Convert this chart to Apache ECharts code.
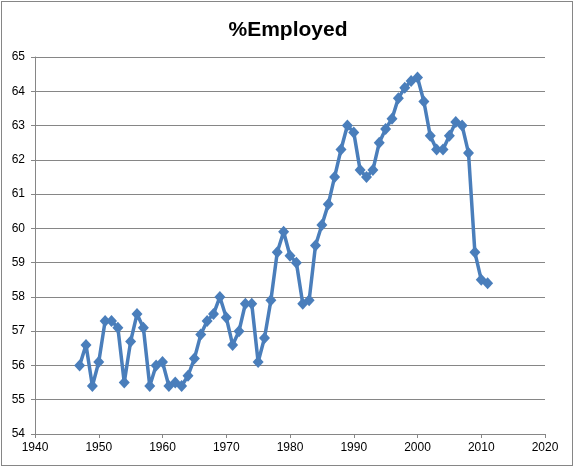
<!DOCTYPE html>
<html>
<head>
<meta charset="utf-8">
<script src="https://cdn.jsdelivr.net/npm/echarts@6/dist/echarts.min.js"></script>
<style>
html,body{margin:0;padding:0;background:#fff;}
#wrap{position:absolute;left:0;top:0;width:576px;height:470px;}
#border{position:absolute;left:1px;top:1px;width:572px;height:465px;border:1px solid #868686;box-sizing:border-box;pointer-events:none;}
#chart{position:absolute;left:0;top:0;width:576px;height:470px;}
</style>
</head>
<body>
<div id="wrap"><div id="chart"></div><div id="border"></div></div>
<script>
const titleText = "%Employed";
const years = [1947,1948,1949,1950,1951,1952,1953,1954,1955,1956,1957,1958,1959,1960,1961,1962,1963,1964,1965,1966,1967,1968,1969,1970,1971,1972,1973,1974,1975,1976,1977,1978,1979,1980,1981,1982,1983,1984,1985,1986,1987,1988,1989,1990,1991,1992,1993,1994,1995,1996,1997,1998,1999,2000,2001,2002,2003,2004,2005,2006,2007,2008,2009,2010,2011];
const employed = [56.0,56.6,55.4,56.1,57.3,57.3,57.1,55.5,56.7,57.5,57.1,55.4,56.0,56.1,55.4,55.5,55.4,55.7,56.2,56.9,57.3,57.5,58.0,57.4,56.6,57.0,57.8,57.8,56.1,56.8,57.9,59.3,59.9,59.2,59.0,57.8,57.9,59.5,60.1,60.7,61.5,62.3,63.0,62.8,61.7,61.5,61.7,62.5,62.9,63.2,63.8,64.1,64.3,64.4,63.7,62.7,62.3,62.3,62.7,63.1,63.0,62.2,59.3,58.5,58.4];
const xRange = [1940, 2020, 10];
const yRange = [54, 65, 1];

const points = years.map((y, i) => [y, employed[i]]);
const chart = echarts.init(document.getElementById('chart'), null, {renderer: 'canvas'});
const labelFont = {fontFamily: 'Liberation Sans', fontSize: 12, color: '#000'};
chart.setOption({
  animation: false,
  title: {
    text: titleText, left: 'center', top: 15,
    textStyle: {fontFamily: 'Liberation Sans', fontWeight: 'bold', fontSize: 21, color: '#000'}
  },
  grid: {left: 35, right: 31, top: 57, bottom: 36, containLabel: false},
  xAxis: {
    type: 'value', min: xRange[0], max: xRange[1], interval: xRange[2],
    axisLine: {show: true, lineStyle: {color: '#868686', width: 1}},
    axisTick: {show: true, length: 4, lineStyle: {color: '#868686'}},
    axisLabel: Object.assign({margin: 8, formatter: v => String(v)}, labelFont),
    splitLine: {show: false}
  },
  yAxis: {
    type: 'value', min: yRange[0], max: yRange[1], interval: yRange[2],
    axisLine: {show: true, lineStyle: {color: '#868686', width: 1}},
    axisTick: {show: true, length: 4, lineStyle: {color: '#868686'}},
    axisLabel: Object.assign({margin: 10, formatter: v => String(v)}, labelFont),
    splitLine: {show: true, lineStyle: {color: '#868686', width: 1}}
  },
  series: [{
    type: 'line', data: points,
    symbol: 'diamond', symbolSize: [11, 12],
    itemStyle: {color: '#4A7EBB'},
    lineStyle: {color: '#4A7EBB', width: 3.5},
    showAllSymbol: true
  }]
});
</script>
</body>
</html>
